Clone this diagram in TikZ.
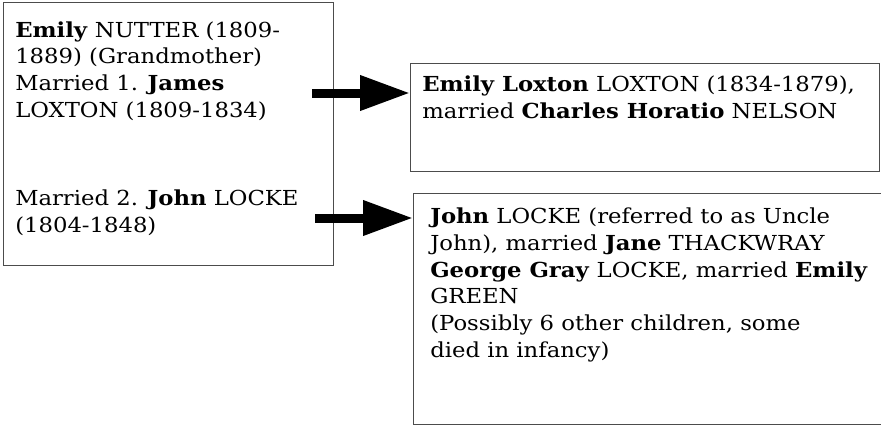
\documentclass[tikz,border=0pt]{standalone}
\usepackage{fontspec}
\setmainfont[FakeStretch=1.1]{DejaVu Serif}
\usetikzlibrary{arrows.meta}
\tikzset{
  frame/.style={draw=black!70,line width=0.9pt,inner sep=0pt,anchor=north west},
  entry/.style={anchor=base west,inner sep=0pt,align=left,font=\fontsize{15.5pt}{20pt}\selectfont},
  fatarrow/.style={line width=6.75pt,-{Triangle[length=37.5pt,width=25pt]}}
}
\begin{document}
\begin{tikzpicture}[x=0.75pt,y=-0.75pt]
\useasboundingbox (0,0) rectangle (881,429);
% family boxes
\node[frame,minimum width=247.5pt,minimum height=197.25pt] (nutter) at (3,2) {};
\node[frame,minimum width=351.75pt,minimum height=81pt] (loxton) at (410,63) {};
\node[frame,minimum width=354pt,minimum height=173.25pt] (locke) at (413,193) {};
% texts (placed at the baseline of their last line)
\node[entry] (firstwed) at (15,117) {\textbf{Emily} NUTTER (1809-\\1889) (Grandmother)\\Married 1. \textbf{James}\\LOXTON (1809-1834)};
\node[entry] (secondwed) at (15,232) {Married 2. \textbf{John} LOCKE\\(1804-1848)};
\node[entry] (daughter) at (422,118) {\textbf{Emily Loxton} LOXTON (1834-1879),\\married \textbf{Charles Horatio} NELSON};
\node[entry] (sons) at (430,357) {\textbf{John} LOCKE (referred to as Uncle\\John), married \textbf{Jane} THACKWRAY\\\textbf{George Gray} LOCKE, married \textbf{Emily}\\GREEN\\(Possibly 6 other children, some\\died in infancy)};
% arrows
\coordinate (tail1) at (312,93);
\coordinate (tail2) at (315,218);
\draw[fatarrow] (tail1) -- (tail1 -| loxton.west);
\draw[fatarrow] (tail2) -- (tail2 -| locke.west);
\end{tikzpicture}
\end{document}
